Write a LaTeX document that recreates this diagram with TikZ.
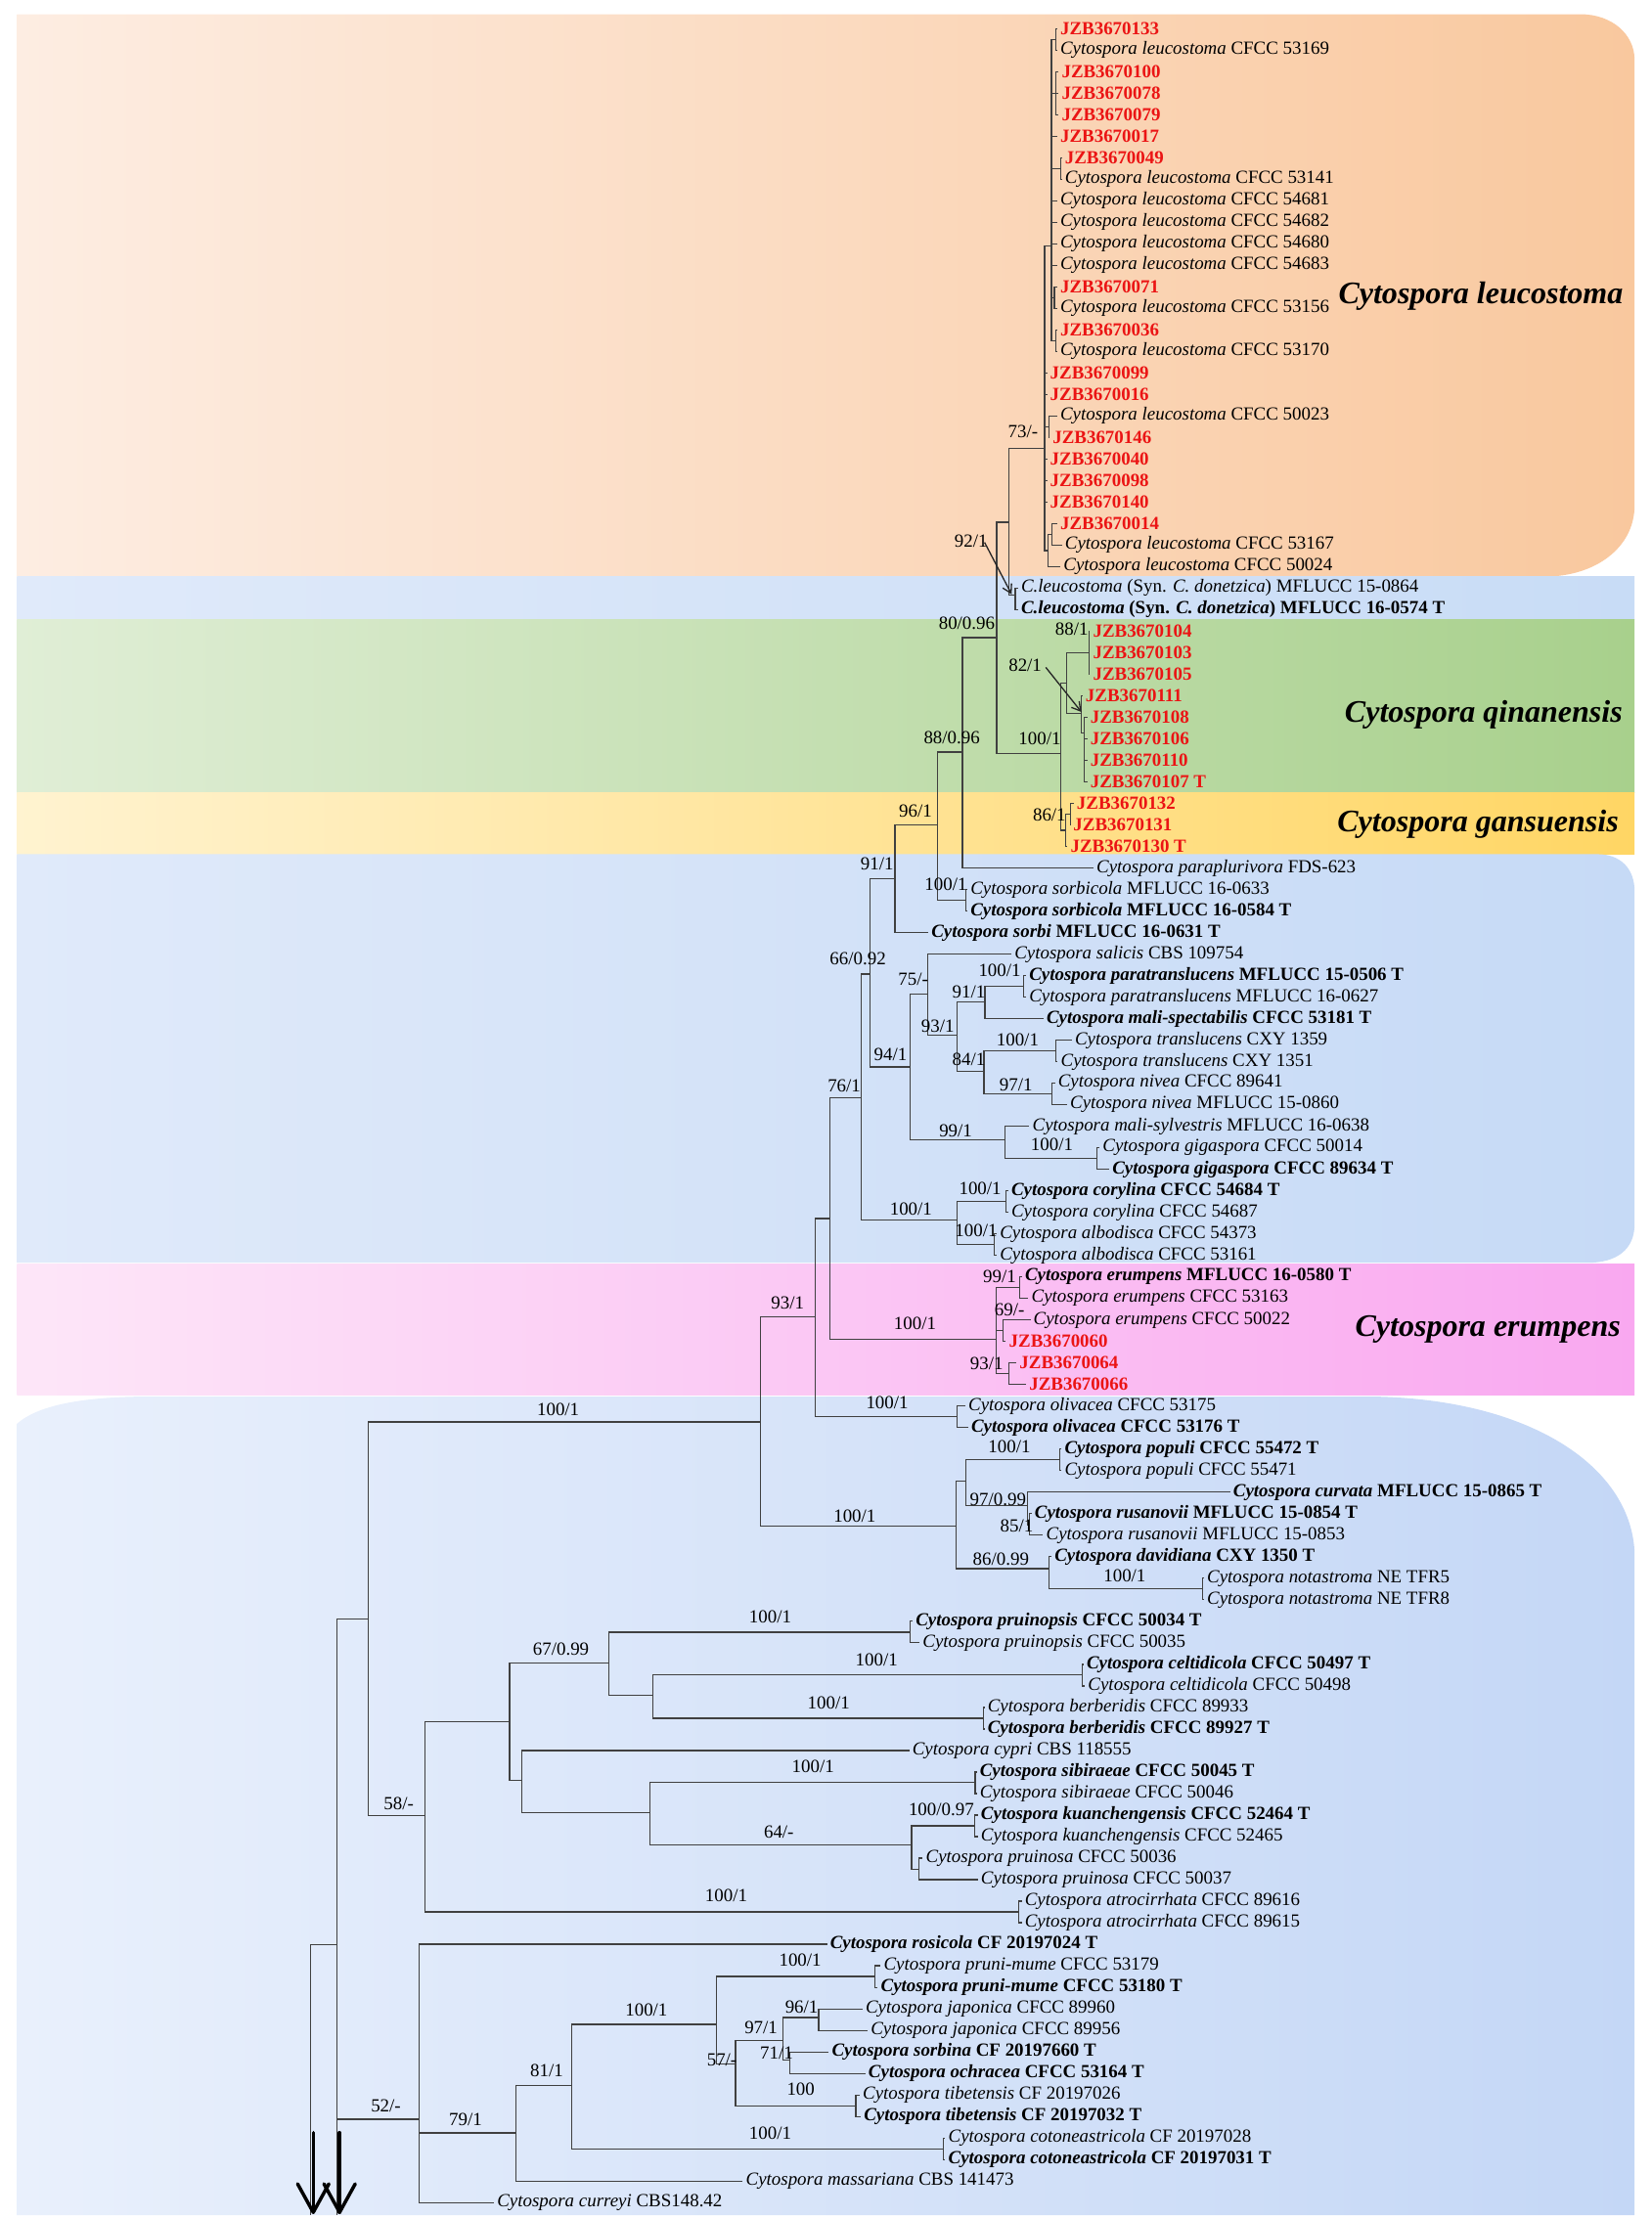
\documentclass[tikz,border=0pt]{standalone}
\usepackage{fontspec}
\setmainfont{Liberation Serif}
\usetikzlibrary{arrows.meta}
\definecolor{jzred}{RGB}{235,20,20}
\newcommand\lff{\fontsize{13}{15}\selectfont}
\newcommand\Cy[2]{\textit{Cytospora #1} #2}
\newcommand\Cb[2]{\textbf{\textit{Cytospora #1} #2}}
\newcommand\Jz[1]{\textcolor{jzred}{\textbf{#1}}}
\tikzset{
  br/.style={draw=black!75, line width=0.8pt},
  lf/.style={anchor=west, inner xsep=2pt, inner ysep=0pt, font=\lff},
  supp/.style={inner sep=0pt, font=\lff},
  clade/.style={inner sep=0pt, font=\fontsize{22}{24}\selectfont\bfseries\itshape},
  pointer/.style={draw=black!85, line width=0.9pt, -{Straight Barb[length=6pt,width=7pt]}},
  bigarrow/.style={draw=black, line width=2.4pt, line cap=round, line join=round}
}
\newcommand\Lf[4]{\node[lf] (#1) at ({#3-2},{20+15.12*#2}) {#4};}
\newcommand\E[2]{\draw[br] (#1) |- (#2);}
\newcommand\EL[2]{\draw[br] (#1) |- (#2.west);}
\newcommand\Sv[4]{\node[supp] (#1) at (#2,#3) {#4};}
\begin{document}
\begin{tikzpicture}[x=1pt,y=-1pt]
\useasboundingbox (0,0) rectangle (1160,1558);
% ---------------- background panels ----------------
\shade[left color={rgb,255:red,253;green,237;blue,226}, right color={rgb,255:red,249;green,200;blue,158}]
  (12,10) -- (1110,10) .. controls (1132,10) and (1148,24) .. (1148,42) -- (1148,355)
  .. controls (1148,385) and (1120,405) .. (1085,405) -- (12,405) -- cycle;
\shade[left color={rgb,255:red,224;green,234;blue,250}, right color={rgb,255:red,200;green,220;blue,246}]
  (12,405) rectangle (1148,435);
\shade[left color={rgb,255:red,224;green,238;blue,214}, right color={rgb,255:red,168;green,208;blue,140}]
  (12,435) rectangle (1148,557);
\shade[left color={rgb,255:red,255;green,243;blue,208}, right color={rgb,255:red,255;green,214;blue,100}]
  (12,557) rectangle (1148,600);
\shade[left color={rgb,255:red,224;green,234;blue,250}, right color={rgb,255:red,198;green,218;blue,246}]
  (12,600) -- (1122,600) .. controls (1138,600) and (1148,610) .. (1148,626) -- (1148,860)
  .. controls (1148,878) and (1135,887) .. (1115,887) -- (12,887) -- cycle;
\shade[left color={rgb,255:red,253;green,230;blue,248}, right color={rgb,255:red,249;green,168;blue,240}]
  (12,888) rectangle (1148,980);
\shade[left color={rgb,255:red,233;green,240;blue,252}, right color={rgb,255:red,196;green,215;blue,246}]
  (12,1000) .. controls (28,986) and (62,981) .. (105,981) -- (965,981)
  .. controls (1075,983) and (1145,1030) .. (1148,1090) -- (1148,1556) -- (12,1556) -- cycle;
% ---------------- clade titles ----------------
\node[clade] (tLeu) at (1040,208) {Cytospora leucostoma};
\node[clade] (tQin) at (1042,502) {Cytospora qinanensis};
\node[clade] (tGan) at (1038,579) {Cytospora gansuensis};
\node[clade] (tEru) at (1045,934) {Cytospora erumpens};
% ---------------- leaves ----------------
\Lf{l0}{0}{744.5}{\Jz{JZB3670133}}
\Lf{l1}{1}{744.5}{\Cy{leucostoma}{CFCC 53169}}
\Lf{l2}{2}{745.5}{\Jz{JZB3670100}}
\Lf{l3}{3}{745.5}{\Jz{JZB3670078}}
\Lf{l4}{4}{745.5}{\Jz{JZB3670079}}
\Lf{l5}{5}{744.5}{\Jz{JZB3670017}}
\Lf{l6}{6}{747.8}{\Jz{JZB3670049}}
\Lf{l7}{7}{747.8}{\Cy{leucostoma}{CFCC 53141}}
\Lf{l8}{8}{744.5}{\Cy{leucostoma}{CFCC 54681}}
\Lf{l9}{9}{744.5}{\Cy{leucostoma}{CFCC 54682}}
\Lf{l10}{10}{744.5}{\Cy{leucostoma}{CFCC 54680}}
\Lf{l11}{11}{744.5}{\Cy{leucostoma}{CFCC 54683}}
\Lf{l12}{12}{744.5}{\Jz{JZB3670071}}
\Lf{l13}{13}{744.5}{\Cy{leucostoma}{CFCC 53156}}
\Lf{l14}{14}{744.5}{\Jz{JZB3670036}}
\Lf{l15}{15}{744.5}{\Cy{leucostoma}{CFCC 53170}}
\Lf{l16}{16}{737.4}{\Jz{JZB3670099}}
\Lf{l17}{17}{737.4}{\Jz{JZB3670016}}
\Lf{l18}{18}{744.5}{\Cy{leucostoma}{CFCC 50023}}
\Lf{l19}{19}{739.2}{\Jz{JZB3670146}}
\Lf{l20}{20}{737.4}{\Jz{JZB3670040}}
\Lf{l21}{21}{737.4}{\Jz{JZB3670098}}
\Lf{l22}{22}{737.4}{\Jz{JZB3670140}}
\Lf{l23}{23}{744.5}{\Jz{JZB3670014}}
\Lf{l24}{24}{747.8}{\Cy{leucostoma}{CFCC 53167}}
\Lf{l25}{25}{746.8}{\Cy{leucostoma}{CFCC 50024}}
\Lf{l26}{26}{717}{\textit{C.leucostoma} (Syn. \textit{C. donetzica}) MFLUCC 15-0864}
\Lf{l27}{27}{717}{\textbf{\textit{C.leucostoma} (Syn. \textit{C. donetzica}) MFLUCC 16-0574 T}}
\Lf{l28}{28}{767.5}{\Jz{JZB3670104}}
\Lf{l29}{29}{767.5}{\Jz{JZB3670103}}
\Lf{l30}{30}{767.5}{\Jz{JZB3670105}}
\Lf{l31}{31}{762.3}{\Jz{JZB3670111}}
\Lf{l32}{32}{765.6}{\Jz{JZB3670108}}
\Lf{l33}{33}{765.6}{\Jz{JZB3670106}}
\Lf{l34}{34}{765.6}{\Jz{JZB3670110}}
\Lf{l35}{35}{765.6}{\Jz{JZB3670107 T}}
\Lf{l36}{36}{756.1}{\Jz{JZB3670132}}
\Lf{l37}{37}{753.7}{\Jz{JZB3670131}}
\Lf{l38}{38}{751.7}{\Jz{JZB3670130 T}}
\Lf{l39}{39}{770}{\Cy{paraplurivora}{FDS-623}}
\Lf{l40}{40}{681.5}{\Cy{sorbicola}{MFLUCC 16-0633}}
\Lf{l41}{41}{681.5}{\Cb{sorbicola}{MFLUCC 16-0584 T}}
\Lf{l42}{42}{654}{\Cb{sorbi}{MFLUCC 16-0631 T}}
\Lf{l43}{43}{712.4}{\Cy{salicis}{CBS 109754}}
\Lf{l44}{44}{722.7}{\Cb{paratranslucens}{MFLUCC 15-0506 T}}
\Lf{l45}{45}{722.7}{\Cy{paratranslucens}{MFLUCC 16-0627}}
\Lf{l46}{46}{734.9}{\Cb{mali-spectabilis}{CFCC 53181 T}}
\Lf{l47}{47}{754.8}{\Cy{translucens}{CXY 1359}}
\Lf{l48}{48}{744.9}{\Cy{translucens}{CXY 1351}}
\Lf{l49}{49}{742.9}{\Cy{nivea}{CFCC 89641}}
\Lf{l50}{50}{751.4}{\Cy{nivea}{MFLUCC 15-0860}}
\Lf{l51}{51}{725}{\Cy{mali-sylvestris}{MFLUCC 16-0638}}
\Lf{l52}{52}{774.3}{\Cy{gigaspora}{CFCC 50014}}
\Lf{l53}{53}{781.1}{\Cb{gigaspora}{CFCC 89634 T}}
\Lf{l54}{54}{710.1}{\Cb{corylina}{CFCC 54684 T}}
\Lf{l55}{55}{710.1}{\Cy{corylina}{CFCC 54687}}
\Lf{l56}{56}{702.1}{\Cy{albodisca}{CFCC 54373}}
\Lf{l57}{57}{702.1}{\Cy{albodisca}{CFCC 53161}}
\Lf{l58}{58}{719.8}{\Cb{erumpens}{MFLUCC 16-0580 T}}
\Lf{l59}{59}{724.3}{\Cy{erumpens}{CFCC 53163}}
\Lf{l60}{60}{725.7}{\Cy{erumpens}{CFCC 50022}}
\Lf{l61}{61}{708.5}{\Jz{JZB3670060}}
\Lf{l62}{62}{715.9}{\Jz{JZB3670064}}
\Lf{l63}{63}{722.7}{\Jz{JZB3670066}}
\Lf{l64}{64}{680}{\Cy{olivacea}{CFCC 53175}}
\Lf{l65}{65}{682}{\Cb{olivacea}{CFCC 53176 T}}
\Lf{l66}{66}{747.6}{\Cb{populi}{CFCC 55472 T}}
\Lf{l67}{67}{747.6}{\Cy{populi}{CFCC 55471}}
\Lf{l68}{68}{866}{\Cb{curvata}{MFLUCC 15-0865 T}}
\Lf{l69}{69}{726.5}{\Cb{rusanovii}{MFLUCC 15-0854 T}}
\Lf{l70}{70}{734.6}{\Cy{rusanovii}{MFLUCC 15-0853}}
\Lf{l71}{71}{740.5}{\Cb{davidiana}{CXY 1350 T}}
\Lf{l72}{72}{847.6}{\Cy{notastroma}{NE TFR5}}
\Lf{l73}{73}{847.6}{\Cy{notastroma}{NE TFR8}}
\Lf{l74}{74}{643}{\Cb{pruinopsis}{CFCC 50034 T}}
\Lf{l75}{75}{647.9}{\Cy{pruinopsis}{CFCC 50035}}
\Lf{l76}{76}{763}{\Cb{celtidicola}{CFCC 50497 T}}
\Lf{l77}{77}{764}{\Cy{celtidicola}{CFCC 50498}}
\Lf{l78}{78}{693.5}{\Cy{berberidis}{CFCC 89933}}
\Lf{l79}{79}{693.5}{\Cb{berberidis}{CFCC 89927 T}}
\Lf{l80}{80}{640.6}{\Cy{cypri}{CBS 118555}}
\Lf{l81}{81}{688}{\Cb{sibiraeae}{CFCC 50045 T}}
\Lf{l82}{82}{688}{\Cy{sibiraeae}{CFCC 50046}}
\Lf{l83}{83}{688.8}{\Cb{kuanchengensis}{CFCC 52464 T}}
\Lf{l84}{84}{688.8}{\Cy{kuanchengensis}{CFCC 52465}}
\Lf{l85}{85}{650.1}{\Cy{pruinosa}{CFCC 50036}}
\Lf{l86}{86}{688.8}{\Cy{pruinosa}{CFCC 50037}}
\Lf{l87}{87}{719.6}{\Cy{atrocirrhata}{CFCC 89616}}
\Lf{l88}{88}{719.6}{\Cy{atrocirrhata}{CFCC 89615}}
\Lf{l89}{89}{582.9}{\Cb{rosicola}{CF 20197024 T}}
\Lf{l90}{90}{620.5}{\Cy{pruni-mume}{CFCC 53179}}
\Lf{l91}{91}{618.5}{\Cb{pruni-mume}{CFCC 53180 T}}
\Lf{l92}{92}{607.8}{\Cy{japonica}{CFCC 89960}}
\Lf{l93}{93}{611.4}{\Cy{japonica}{CFCC 89956}}
\Lf{l94}{94}{584.1}{\Cb{sorbina}{CF 20197660 T}}
\Lf{l95}{95}{609.8}{\Cb{ochracea}{CFCC 53164 T}}
\Lf{l96}{96}{605.8}{\Cy{tibetensis}{CF 20197026}}
\Lf{l97}{97}{606.6}{\Cb{tibetensis}{CF 20197032 T}}
\Lf{l98}{98}{665.9}{\Cy{cotoneastricola}{CF 20197028}}
\Lf{l99}{99}{665.9}{\Cb{cotoneastricola}{CF 20197031 T}}
\Lf{l100}{100}{523.7}{\Cy{massariana}{CBS 141473}}
\Lf{l101}{101}{349}{\Cy{curreyi}{CBS148.42}}
% ---------------- internal nodes ----------------
\coordinate (nRoot) at (236.9,1137.1);
\coordinate (rootB) at (236.9,1556);
\coordinate (lTop) at (218.3,1365.7);
\coordinate (lBot) at (218.3,1556);
\coordinate (nD) at (258.7,1137.1);
\coordinate (nC) at (534,998.8);
\coordinate (nB) at (572.7,924.7);
\coordinate (nA) at (582.6,855.9);
\coordinate (n76) at (604.8,771);
\coordinate (n66) at (611,684.2);
\coordinate (n91) at (628.5,617);
\coordinate (n96) at (658.5,579.7);
\coordinate (n88) at (676,528.2);
\coordinate (n80) at (700,447.9);
\coordinate (n92) at (708.8,366.8);
\coordinate (n73) at (733.6,314.8);
\coordinate (nU) at (738.5,172.7);
\coordinate (nU01) at (741.5,27.6);
\coordinate (nU24) at (741.8,65.4);
\coordinate (nU67) at (745.2,118.3);
\coordinate (nU1213) at (740.5,208.9);
\coordinate (nU1415) at (741.5,239.3);
\coordinate (n1819) at (736.5,299.8);
\coordinate (nL) at (736,386.7);
\coordinate (nL2324) at (738.8,375.4);
\coordinate (nMF) at (713,418);
\coordinate (nQG) at (744.7,529.4);
\coordinate (nQ) at (749.2,479.9);
\coordinate (n88q) at (764.7,458.5);
\coordinate (n82) at (759.5,501.3);
\coordinate (nQ2) at (761.3,515);
\coordinate (n86) at (748.2,583.2);
\coordinate (nG2) at (751.6,571.9);
\coordinate (nSc) at (678.5,632.4);
\coordinate (n94) at (639.1,749.4);
\coordinate (n75) at (651.7,698);
\coordinate (n93b) at (672.4,727.3);
\coordinate (n91b) at (691.8,703.9);
\coordinate (nPT) at (718.8,692.9);
\coordinate (n84) at (691.1,752.5);
\coordinate (nTr) at (741.5,738.2);
\coordinate (nNv) at (738.8,768.5);
\coordinate (n99) at (705.6,800.8);
\coordinate (nGg) at (770.2,813.8);
\coordinate (nCA) at (672.4,857);
\coordinate (nCo) at (706.7,844);
\coordinate (nAl) at (698.2,874.2);
\coordinate (nE) at (699.8,940.7);
\coordinate (n99e) at (715.9,904.5);
\coordinate (n69) at (704.4,934.7);
\coordinate (n93e) at (708.5,965);
\coordinate (nOl) at (672.4,995.2);
\coordinate (nPop) at (671.3,1071.8);
\coordinate (nPP) at (678.5,1040.2);
\coordinate (nPo) at (744.5,1025.5);
\coordinate (n97c) at (721.5,1057.4);
\coordinate (n85) at (723.2,1070.9);
\coordinate (n86d) at (736.5,1101.8);
\coordinate (nNo) at (844.5,1116.2);
\coordinate (n58) at (298.4,1275.4);
\coordinate (n67a) at (357.9,1209.4);
\coordinate (n67) at (427.8,1167.9);
\coordinate (nPru) at (639.4,1146.5);
\coordinate (nCB) at (458.3,1190.9);
\coordinate (nCel) at (760,1176.6);
\coordinate (nBer) at (690.9,1207);
\coordinate (nCS) at (366.3,1250.5);
\coordinate (nSK) at (456.3,1273.5);
\coordinate (nSi) at (684.9,1252.2);
\coordinate (n64) at (640.2,1295.8);
\coordinate (nKu) at (684.8,1282.5);
\coordinate (nPr) at (645.3,1312.8);
\coordinate (nAt) at (715.6,1343);
\coordinate (n52) at (294.5,1488.6);
\coordinate (n79) at (362.5,1498.2);
\coordinate (n81) at (401.3,1464.8);
\coordinate (n100p) at (503.1,1422);
\coordinate (nPm) at (614.5,1388.3);
\coordinate (n57) at (516.6,1449.6);
\coordinate (n97j) at (550.1,1433.4);
\coordinate (n96j) at (575,1417.2);
\coordinate (n71) at (554.5,1447.3);
\coordinate (nTib) at (601.1,1479.1);
\coordinate (nCot) at (662.7,1509.4);
% ---------------- branches ----------------
\draw[br] (nRoot) -- (rootB);
\draw[br] (nRoot) |- (lTop) -- (lBot);
\E{nRoot}{nD} \E{nRoot}{n52}
\E{nD}{nC} \E{nD}{n58}
\E{nC}{nB} \E{nC}{nPop}
\E{nB}{nA} \E{nB}{nOl}
\E{nA}{n76} \E{nA}{nE}
\E{n76}{n66} \E{n76}{nCA}
\E{n66}{n91} \E{n66}{n94}
\E{n91}{n96} \EL{n91}{l42}
\E{n96}{n88} \E{n96}{nSc}
\E{n88}{n80} \EL{n88}{l39}
\E{n80}{n92} \E{n80}{nQG}
\E{n92}{n73} \E{n92}{nMF}
\E{n73}{nU} \EL{n73}{l16} \EL{n73}{l17} \E{n73}{n1819}
\EL{n73}{l20} \EL{n73}{l21} \EL{n73}{l22} \E{n73}{nL}
\E{nU}{nU01} \E{nU}{nU24} \EL{nU}{l5} \E{nU}{nU67}
\EL{nU}{l8} \EL{nU}{l9} \EL{nU}{l10} \EL{nU}{l11}
\E{nU}{nU1213} \E{nU}{nU1415}
\EL{nU01}{l0} \EL{nU01}{l1}
\EL{nU24}{l2} \EL{nU24}{l3} \EL{nU24}{l4}
\EL{nU67}{l6} \EL{nU67}{l7}
\EL{nU1213}{l12} \EL{nU1213}{l13}
\EL{nU1415}{l14} \EL{nU1415}{l15}
\EL{n1819}{l18} \EL{n1819}{l19}
\E{nL}{nL2324} \EL{nL}{l25}
\EL{nL2324}{l23} \EL{nL2324}{l24}
\EL{nMF}{l26} \EL{nMF}{l27}
\E{nQG}{nQ} \E{nQG}{n86}
\E{nQ}{n88q} \E{nQ}{n82}
\EL{n88q}{l28} \EL{n88q}{l29} \EL{n88q}{l30}
\EL{n82}{l31} \E{n82}{nQ2}
\EL{nQ2}{l32} \EL{nQ2}{l33} \EL{nQ2}{l34} \EL{nQ2}{l35}
\E{n86}{nG2} \EL{n86}{l38}
\EL{nG2}{l36} \EL{nG2}{l37}
\EL{nSc}{l40} \EL{nSc}{l41}
\E{n94}{n75} \E{n94}{n99}
\EL{n75}{l43} \E{n75}{n93b}
\E{n93b}{n91b} \E{n93b}{n84}
\E{n91b}{nPT} \EL{n91b}{l46}
\EL{nPT}{l44} \EL{nPT}{l45}
\E{n84}{nTr} \E{n84}{nNv}
\EL{nTr}{l47} \EL{nTr}{l48}
\EL{nNv}{l49} \EL{nNv}{l50}
\EL{n99}{l51} \E{n99}{nGg}
\EL{nGg}{l52} \EL{nGg}{l53}
\E{nCA}{nCo} \E{nCA}{nAl}
\EL{nCo}{l54} \EL{nCo}{l55}
\EL{nAl}{l56} \EL{nAl}{l57}
\E{nE}{n99e} \E{nE}{n69} \E{nE}{n93e}
\EL{n99e}{l58} \EL{n99e}{l59}
\EL{n69}{l60} \EL{n69}{l61}
\EL{n93e}{l62} \EL{n93e}{l63}
\EL{nOl}{l64} \EL{nOl}{l65}
\E{nPop}{nPP} \E{nPop}{n86d}
\E{nPP}{nPo} \E{nPP}{n97c}
\EL{nPo}{l66} \EL{nPo}{l67}
\EL{n97c}{l68} \E{n97c}{n85}
\EL{n85}{l69} \EL{n85}{l70}
\EL{n86d}{l71} \E{n86d}{nNo}
\EL{nNo}{l72} \EL{nNo}{l73}
\E{n58}{n67a} \E{n58}{nAt}
\E{n67a}{n67} \E{n67a}{nCS}
\E{n67}{nPru} \E{n67}{nCB}
\EL{nPru}{l74} \EL{nPru}{l75}
\E{nCB}{nCel} \E{nCB}{nBer}
\EL{nCel}{l76} \EL{nCel}{l77}
\EL{nBer}{l78} \EL{nBer}{l79}
\EL{nCS}{l80} \E{nCS}{nSK}
\E{nSK}{nSi} \E{nSK}{n64}
\EL{nSi}{l81} \EL{nSi}{l82}
\E{n64}{nKu} \E{n64}{nPr}
\EL{nKu}{l83} \EL{nKu}{l84}
\EL{nPr}{l85} \EL{nPr}{l86}
\EL{nAt}{l87} \EL{nAt}{l88}
\EL{n52}{l89} \E{n52}{n79} \EL{n52}{l101}
\E{n79}{n81} \EL{n79}{l100}
\E{n81}{n100p} \E{n81}{nCot}
\E{n100p}{nPm} \E{n100p}{n57}
\EL{nPm}{l90} \EL{nPm}{l91}
\E{n57}{n97j} \E{n57}{nTib}
\E{n97j}{n96j} \E{n97j}{n71}
\EL{n96j}{l92} \EL{n96j}{l93}
\EL{n71}{l94} \EL{n71}{l95}
\EL{nTib}{l96} \EL{nTib}{l97}
\EL{nCot}{l98} \EL{nCot}{l99}
% ---------------- support values ----------------
\Sv{s73}{718.5}{303.5}{73/-}
\Sv{s92}{682}{380}{92/1}
\Sv{s80}{679}{437.5}{80/0.96}
\Sv{s88q}{752.7}{442.1}{88/1}
\Sv{s82}{720}{467.6}{82/1}
\Sv{s100q}{730.2}{519.1}{100/1}
\Sv{s86}{737}{572.7}{86/1}
\Sv{s88}{668.5}{518}{88/0.96}
\Sv{s96}{643}{569.7}{96/1}
\Sv{s91}{616}{607}{91/1}
\Sv{s100sc}{664.3}{621}{100/1}
\Sv{s66}{602.5}{673.2}{66/0.92}
\Sv{s75}{641.4}{688}{75/-}
\Sv{s100pt}{702.1}{681.8}{100/1}
\Sv{s91b}{680.4}{697.1}{91/1}
\Sv{s93b}{658.6}{721.1}{93/1}
\Sv{s94}{625.4}{740.8}{94/1}
\Sv{s100tr}{714.7}{730.4}{100/1}
\Sv{s84}{680.4}{743.9}{84/1}
\Sv{s97n}{713.6}{761.7}{97/1}
\Sv{s76}{592.9}{762.6}{76/1}
\Sv{s99}{671.2}{794.6}{99/1}
\Sv{s100gg}{738.8}{804.2}{100/1}
\Sv{s100co}{688.4}{834.9}{100/1}
\Sv{s100ca}{639.8}{849.4}{100/1}
\Sv{s100al}{685.6}{864.1}{100/1}
\Sv{s99e}{702.1}{896.4}{99/1}
\Sv{s93big}{553.2}{915.5}{93/1}
\Sv{s69}{709}{920}{69/-}
\Sv{s100e}{642.6}{929.3}{100/1}
\Sv{s93e}{693}{957.9}{93/1}
\Sv{s100ol}{623.1}{985.6}{100/1}
\Sv{s100D}{392}{990}{100/1}
\Sv{s100pop}{600.3}{1064.8}{100/1}
\Sv{s100po}{708.9}{1016.2}{100/1}
\Sv{s97c}{700.9}{1053.2}{97/0.99}
\Sv{s85}{714.1}{1071.7}{85/1}
\Sv{s86d}{703}{1094.9}{86/0.99}
\Sv{s100no}{789.9}{1107.1}{100/1}
\Sv{s100pru}{541}{1135.5}{100/1}
\Sv{s67}{394}{1158.3}{67/0.99}
\Sv{s100cel}{615.7}{1166}{100/1}
\Sv{s100ber}{582}{1196}{100/1}
\Sv{s100si}{571}{1241}{100/1}
\Sv{s100k}{661.1}{1271.4}{100/0.97}
\Sv{s64}{547}{1287}{64/-}
\Sv{s58}{280}{1267}{58/-}
\Sv{s100at}{510}{1331.5}{100/1}
\Sv{s100pm}{562}{1376.6}{100/1}
\Sv{s96j}{563}{1410}{96/1}
\Sv{s100p}{454}{1412}{100/1}
\Sv{s97j}{534.5}{1424}{97/1}
\Sv{s71}{545.4}{1442.2}{71/1}
\Sv{s57}{507}{1447}{57/-}
\Sv{s81}{384}{1454.7}{81/1}
\Sv{s100tib}{562.4}{1467.5}{100}
\Sv{s52}{271}{1479}{52/-}
\Sv{s79}{327}{1489}{79/1}
\Sv{s100cot}{541}{1498.3}{100/1}
% ---------------- pointer arrows ----------------
\coordinate (p92a) at (691.5,381);
\coordinate (p92b) at (710.5,417.5);
\draw[pointer] (p92a) -- (p92b);
\coordinate (p82a) at (734.5,468.8);
\coordinate (p82b) at (759.5,500.1);
\draw[pointer] (p82a) -- (p82b);
% ---------------- truncation arrows ----------------
\coordinate (a1t) at (220,1498);
\coordinate (a1b) at (220,1554);
\coordinate (a2t) at (238.5,1498);
\coordinate (a2b) at (238.5,1554);
\draw[bigarrow] (a1t) -- (a1b);
\draw[bigarrow] (a2t) -- (a2b);
\draw[bigarrow] (209,1534) -- (a1b) -- (231,1534);
\draw[bigarrow] (227.5,1534) -- (a2b) -- (249.5,1534);
\end{tikzpicture}
\end{document}
